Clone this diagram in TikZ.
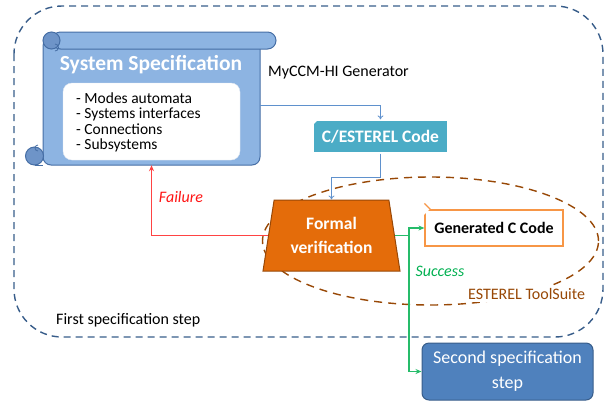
\documentclass[tikz,border=0pt]{standalone}
\usepackage{fontspec}
\setmainfont{Carlito}
\usetikzlibrary{positioning, arrows.meta, calc, backgrounds, shapes.geometric}
\definecolor{frameBrd}{RGB}{56,93,138}
\definecolor{scrollFill}{RGB}{141,180,226}
\definecolor{scrollDark}{RGB}{110,148,200}
\definecolor{scrollBrd}{RGB}{70,110,165}
\definecolor{codeFill}{RGB}{75,172,198}
\definecolor{verFill}{RGB}{228,108,10}
\definecolor{verBrd}{RGB}{152,72,7}
\definecolor{genBrd}{RGB}{247,150,70}
\definecolor{stepFill}{RGB}{79,129,189}
\definecolor{stepBrd}{RGB}{56,93,138}
\definecolor{suiteBrd}{RGB}{152,72,6}
\definecolor{linkBlue}{RGB}{95,145,205}
\definecolor{failRed}{RGB}{255,20,20}
\definecolor{okGreen}{RGB}{0,176,80}
\tikzset{
  every node/.style={font=\fontsize{16}{18}\selectfont},
  TXT/.style={inner sep=0pt},
  LBL/.style={inner sep=0pt, font=\fontsize{16}{18}\selectfont\itshape},
  FRAME/.style={draw=frameBrd, line width=1.4pt, dash pattern=on 7pt off 5pt, rounded corners=48pt},
  SCROLL/.style={draw=scrollBrd, line width=1pt, fill=scrollFill},
  CODE/.style={draw=white, line width=1.2pt, fill=codeFill, text=white, minimum width=135pt, minimum height=33pt, inner sep=0pt,
    font=\fontsize{17.5}{20}\selectfont\bfseries},
  VERIF/.style={trapezium, trapezium stretches body, trapezium left angle=73, trapezium right angle=73,
    minimum width=137pt, minimum height=71pt, inner sep=0pt, draw=verBrd, line width=1pt, fill=verFill,
    text=white, align=center, font=\fontsize{17.5}{24}\selectfont\bfseries},
  GEN/.style={draw=genBrd, line width=1.2pt, fill=white, minimum width=138pt, minimum height=36pt, inner sep=0pt,
    font=\fontsize{16}{18}\selectfont\bfseries},
  STEP/.style={draw=stepBrd, line width=1pt, fill=stepFill, rounded corners=7pt, text=white, align=center,
    minimum width=171pt, minimum height=57pt, inner sep=0pt, font=\fontsize{18}{25}\selectfont},
  SUITE/.style={ellipse, draw=suiteBrd, line width=1.4pt, dash pattern=on 8pt off 6pt, minimum width=336pt,
    minimum height=128pt, inner sep=0pt},
  BLU/.style={-{To[length=4pt,width=6pt]}, draw=linkBlue, line width=0.8pt},
  RED/.style={-{Stealth[length=6pt,width=5pt]}, draw=failRed!80, line width=1.4pt},
  GRN/.style={-{Stealth[length=6pt,width=5pt]}, draw=okGreen!85, line width=1.4pt},
}

\begin{document}
\begin{tikzpicture}[x=1pt, y=1pt, yscale=-1]
\useasboundingbox (0,0) rectangle (613,405);

%% --- first step frame ---
\draw[FRAME] (14,6) rectangle (603,337);
\node[TXT, anchor=west] (first) at (56,320) {First specification step};

%% --- system specification scroll ---
\draw[SCROLL, rounded corners=8pt] (43,38) rectangle (260,165);
\draw[SCROLL, fill=scrollDark] (34.5,156) circle (9);
\draw[scrollBrd, line width=1pt] (34.5,165) -- (43,165);
\draw[scrollBrd, line width=0.8pt] (38,151) arc[start angle=-90, end angle=90, radius=-3];
\draw[SCROLL, rounded corners=8.5pt] (52,32) rectangle (276,49);
\draw[SCROLL, fill=scrollDark] (51.5,40.5) circle (8.5);
\draw[scrollBrd, line width=0.8pt] (55,44) arc[start angle=90, end angle=270, radius=-3.5];
\node[TXT] (spec) at (151.5,101.5) [minimum width=217pt, minimum height=127pt] {};
\node[TXT, text=white, font=\fontsize{21.5}{24}\selectfont\bfseries] (title) at (151,65) {System Specification};
\node[TXT, fill=white, draw=white!85!scrollBrd, rounded corners=9pt, minimum width=177pt, minimum height=77pt]
  (items) at (151.5,121.5) {};
\node[TXT, anchor=north west, align=left, font=\fontsize{15.5}{15.4}\selectfont] (list) at (76,92.5)
  {- Modes automata\\- Systems interfaces\\- Connections\\- Subsystems};

%% --- generator and code ---
\node[TXT, anchor=west] (gener) at (268,73) {MyCCM-HI Generator};
\node[CODE] (code) at (380.5,136.5) {C/ESTEREL Code};
\fill[white] (code.north west) -- ++(6,0) -- ++(-6,6) -- cycle;

%% --- ESTEREL tool suite ---
\node[VERIF] (verif) at (331.5,235.5) {Formal\\verification};
\node[GEN] (gen) at (494,228) {Generated C Code};
\fill[white] ([shift={(-1,-1)}]gen.north west) -- ++(7,0) -- ++(-7,7) -- cycle;
\draw[genBrd, line width=1.2pt] ([xshift=6pt]gen.north west) -- ([yshift=-6pt]gen.north west);
\begin{scope}[on background layer]
  \node[SUITE] (suite) at (430.5,241) {};
\end{scope}
\node[TXT, anchor=west, fill=white, text=suiteBrd, inner sep=2pt] (suitelbl) at (466,294) {ESTEREL ToolSuite};

\node[STEP] (step) at (507.5,371.5) {Second specification\\step};

%% --- connectors ---
\draw[BLU] ([yshift=4pt]spec.east) -| (code.north);
\draw[BLU] (code.south) -- ++(0,24) -| (verif.north);
\draw[RED] (verif.west) -| (spec.south);
\draw[GRN] (verif.east) -- ++(14,0) |- (gen.west);
\draw[GRN] (verif.east) -- ++(14,0) |- (step.west);

\node[LBL, text=failRed] (fail) at (181,197) {Failure};
\node[LBL, text=okGreen] (succ) at (440,271) {Success};

\end{tikzpicture}
\end{document}
